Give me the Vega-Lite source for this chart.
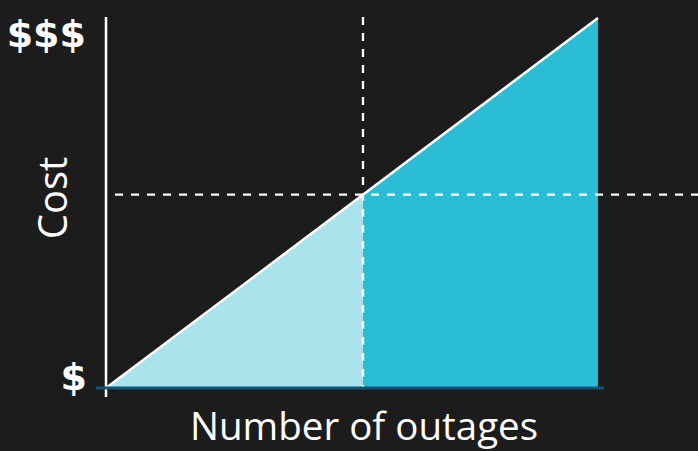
{
  "$schema": "https://vega.github.io/schema/vega-lite/v6.json",
  "width": 592,
  "height": 370,
  "autosize": {"type": "none"},
  "padding": {"left": 106, "top": 18, "right": 0, "bottom": 63},
  "background": "#1c1c1c",
  "config": {"view": {"stroke": null}, "axis": {"disable": true}},
  "datasets": {
    "areas": [
      {"part": "low", "x": 0, "y": 0},
      {"part": "low", "x": 52.24, "y": 52.24},
      {"part": "high", "x": 52.24, "y": 52.24},
      {"part": "high", "x": 100, "y": 100}
    ],
    "diag": [{"x": 0, "y": 0}, {"x": 100, "y": 100}],
    "vdash": [{"x": 52.24, "y": 100.3, "y2": 0}],
    "hdash": [{"x": 1.83, "x2": 120.33, "y": 52.24}],
    "xaxis": [{"x": -2.03, "x2": 101.2, "y": 0}],
    "yaxis": [{"x": 0, "y": 100.3, "y2": -2.4}],
    "labels": [
      {"label": "$$$", "x": -4.07, "y": 95.1},
      {"label": "$", "x": -3.86, "y": 2.43}
    ],
    "xtitle": [{"label": "Number of outages", "x": 52.44, "y": -14.05}],
    "ytitle": [{"label": "Cost", "x": -7.93, "y": 51.35}]
  },
  "layer": [
    {
      "data": {"name": "areas"},
      "mark": {"type": "area", "opacity": 1},
      "encoding": {
        "x": {"field": "x", "type": "quantitative", "scale": {"domain": [0, 120.33], "nice": false, "zero": false}},
        "y": {"field": "y", "type": "quantitative", "scale": {"domain": [0, 100], "nice": false, "zero": false}},
        "y2": {"datum": 0},
        "color": {"field": "part", "type": "nominal", "scale": {"domain": ["low", "high"], "range": ["#aae3ec", "#2bbdd3"]}, "legend": null}
      }
    },
    {
      "data": {"name": "diag"},
      "mark": {"type": "line", "color": "#ffffff", "strokeWidth": 2.5},
      "encoding": {
        "x": {"field": "x", "type": "quantitative"},
        "y": {"field": "y", "type": "quantitative"}
      }
    },
    {
      "data": {"name": "vdash"},
      "mark": {"type": "rule", "color": "#ffffff", "strokeWidth": 2.3, "strokeDash": [8, 8]},
      "encoding": {
        "x": {"field": "x", "type": "quantitative"},
        "y": {"field": "y", "type": "quantitative"},
        "y2": {"field": "y2"}
      }
    },
    {
      "data": {"name": "hdash"},
      "mark": {"type": "rule", "color": "#ffffff", "strokeWidth": 2.3, "strokeDash": [8, 8]},
      "encoding": {
        "x": {"field": "x", "type": "quantitative"},
        "x2": {"field": "x2"},
        "y": {"field": "y", "type": "quantitative"}
      }
    },
    {
      "data": {"name": "yaxis"},
      "mark": {"type": "rule", "color": "#ffffff", "strokeWidth": 2.5},
      "encoding": {
        "x": {"field": "x", "type": "quantitative"},
        "y": {"field": "y", "type": "quantitative"},
        "y2": {"field": "y2"}
      }
    },
    {
      "data": {"name": "xaxis"},
      "mark": {"type": "rule", "color": "#0b5577", "strokeWidth": 3},
      "encoding": {
        "x": {"field": "x", "type": "quantitative"},
        "x2": {"field": "x2"},
        "y": {"field": "y", "type": "quantitative"}
      }
    },
    {
      "data": {"name": "labels"},
      "mark": {"type": "text", "color": "#ffffff", "font": "DejaVu Sans", "fontWeight": "bold", "fontSize": 38, "align": "right", "baseline": "middle"},
      "encoding": {
        "x": {"field": "x", "type": "quantitative"},
        "y": {"field": "y", "type": "quantitative"},
        "text": {"field": "label"}
      }
    },
    {
      "data": {"name": "xtitle"},
      "mark": {"type": "text", "color": "#ffffff", "font": "Open Sans", "fontSize": 38.5, "align": "center", "baseline": "alphabetic"},
      "encoding": {
        "x": {"field": "x", "type": "quantitative"},
        "y": {"field": "y", "type": "quantitative"},
        "text": {"field": "label"}
      }
    },
    {
      "data": {"name": "ytitle"},
      "mark": {"type": "text", "color": "#ffffff", "font": "Open Sans", "fontSize": 40, "align": "center", "baseline": "alphabetic", "angle": 270},
      "encoding": {
        "x": {"field": "x", "type": "quantitative"},
        "y": {"field": "y", "type": "quantitative"},
        "text": {"field": "label"}
      }
    }
  ]
}
